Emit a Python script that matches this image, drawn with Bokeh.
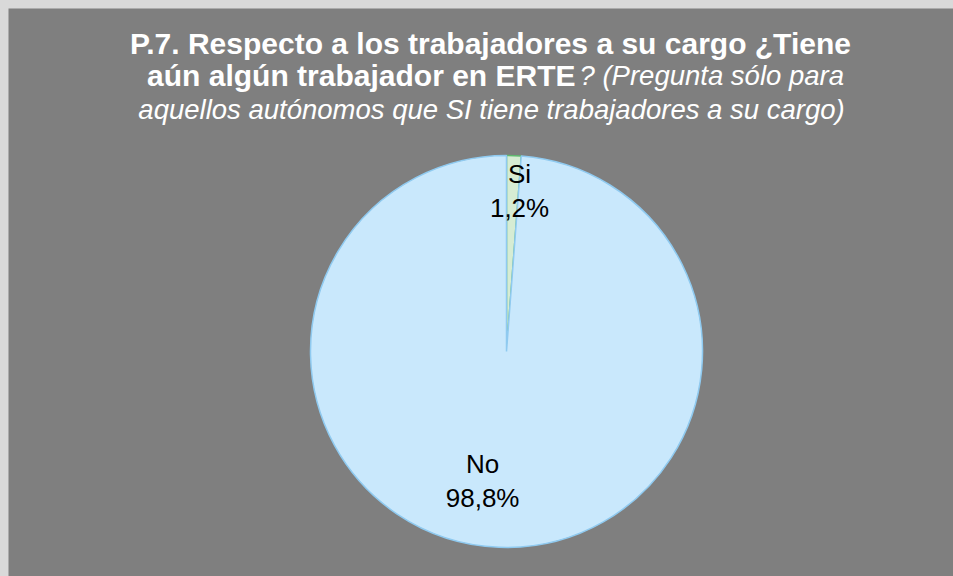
import math
from bokeh.plotting import figure
from bokeh.models import Label
from bokeh.core.properties import value
from bokeh.embed import file_html
from bokeh.resources import INLINE

# ---- data ----
categories = ["Si", "No"]
percent = [1.2, 98.8]
label_texts = ["Si\n1,2%", "No\n98,8%"]
colors = ["#d6ecd3", "#c9e8fc"]
edge_colors = ["#5fb86f", "#8fcaf0"]

title_line1 = "P.7. Respecto a los trabajadores a su cargo ¿Tiene"
title_line2_bold = "aún algún trabajador en ERTE"
title_line2_italic = "? (Pregunta sólo para"
title_line3 = "aquellos autónomos que SI tiene trabajadores a su cargo)"

W, H = 945, 568
BG = "#7f7f7f"
FONT = "Liberation Sans"

p = figure(width=W, height=H, x_range=(0, W), y_range=(0, H),
           output_backend="svg", toolbar_location=None, min_border=0)
p.axis.visible = False
p.grid.visible = False
p.background_fill_color = BG
p.border_fill_color = BG
p.outline_line_color = None

cx, cy, R = 498, 225, 196

# angles: first slice starts at 12 o'clock, going clockwise
total = sum(percent)
start = math.pi / 2
starts, ends, mids = [], [], []
for v in percent:
    sweep = 2 * math.pi * v / total
    e = start - sweep
    starts.append(e)
    ends.append(start)
    mids.append(start - sweep / 2)
    start = e

for i in range(len(categories)):
    p.wedge(x=cx, y=cy, radius=R, start_angle=starts[i], end_angle=ends[i],
            fill_color=colors[i], line_color=edge_colors[i], line_width=1.5)

# data labels
label_r = [0.82, 0.66]
label_dx = [7, -19]
for i, t in enumerate(label_texts):
    lx = cx + R * label_r[i] * math.cos(mids[i]) + label_dx[i]
    ly = cy + R * label_r[i] * math.sin(mids[i])
    p.text(x=[lx], y=[ly], text=[t], text_font=value(FONT),
           text_font_size="26px", text_align="center", text_baseline="middle",
           text_color="#000000", text_line_height=1.15)

# title
BOLD_SIZE = "30px"
ITAL_SIZE = "27.5px"
p.add_layout(Label(x=482, y=533, text=title_line1, text_font=FONT,
                   text_font_size=BOLD_SIZE, text_font_style="bold",
                   text_color="white", text_align="center", text_baseline="alphabetic"))
p.add_layout(Label(x=567, y=501, text=title_line2_bold, text_font=FONT,
                   text_font_size=BOLD_SIZE, text_font_style="bold",
                   text_color="white", text_align="right", text_baseline="alphabetic"))
p.add_layout(Label(x=571, y=501, text=title_line2_italic, text_font=FONT,
                   text_font_size=ITAL_SIZE, text_font_style="italic",
                   text_color="white", text_align="left", text_baseline="alphabetic"))
p.add_layout(Label(x=483, y=467, text=title_line3, text_font=FONT,
                   text_font_size=ITAL_SIZE, text_font_style="italic",
                   text_color="white", text_align="center", text_baseline="alphabetic"))

html = file_html(p, INLINE)
html = html.replace(
    "<head>",
    "<head><style>html,body{margin:0 !important;padding:0 !important;overflow:hidden;background:#d9d9d9;}"
    "body{padding:8px 0 0 8px !important;}</style>", 1)
open("out.html", "w").write(html)
